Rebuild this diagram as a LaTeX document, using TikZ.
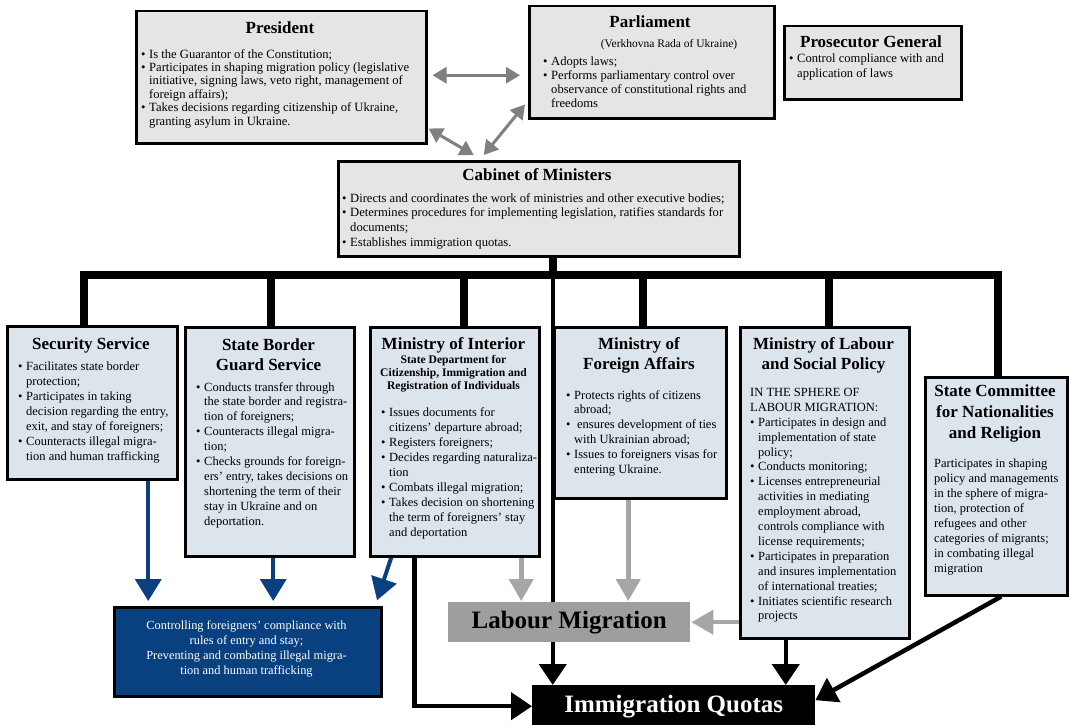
\documentclass[tikz,border=0pt]{standalone}
\usepackage{fontspec}
\setmainfont{Liberation Serif}
\usetikzlibrary{arrows.meta,calc}
\definecolor{topfill}{HTML}{E5E5E5}
\definecolor{lowfill}{HTML}{DCE4EC}
\definecolor{navy}{RGB}{8,64,128}
\definecolor{lgray}{HTML}{A6A6A6}
\definecolor{dgray}{HTML}{808080}
\definecolor{lmfill}{HTML}{9E9E9E}
\newcommand{\bu}{\makebox[8pt][l]{\textbullet}}
\newcommand{\ci}{\hspace*{8pt}}
\pgfdeclarelayer{bg}
\pgfsetlayers{bg,main}
\begin{document}
\begin{tikzpicture}[x=1pt,y=-1pt,
 topbox/.style={draw, line width=2.5pt, fill=topfill, inner sep=0pt, anchor=north west},
 lowbox/.style={draw, line width=2.5pt, fill=lowfill, inner sep=0pt, anchor=north west},
 ttl/.style={font=\fontsize{17}{20}\selectfont\bfseries, align=center, inner sep=0pt},
 tbody/.style={font=\fontsize{12.6}{13.4}\selectfont, align=left, inner sep=0pt, anchor=north west},
 lbody/.style={font=\fontsize{12.5}{14.9}\selectfont, align=left, inner sep=0pt, anchor=north west},
 tree/.style={line width=8pt, line join=miter},
 blk/.style={line width=4.5pt, line join=miter, -{Triangle[length=21pt,width=27pt]}},
 blu/.style={navy, line width=4pt, shorten >=5pt, -{Triangle[length=22pt,width=26pt]}},
 gry/.style={lgray, line width=4.5pt, shorten >=1pt, -{Triangle[length=22pt,width=24pt]}},
 dbl/.style={dgray, line width=3pt, {Triangle[length=14pt,width=16pt]}-{Triangle[length=14pt,width=16pt]}},
]
\useasboundingbox (0,0) rectangle (1071,725);

% ---------- top boxes ----------
\node[topbox, minimum width=290, minimum height=132] (pres) at (135,10) {};
\node[ttl] (presT) at (280,28) {President};
\node[tbody] (presB) at (141,49) {\bu Is the Guarantor of the Constitution;\\ \bu Participates in shaping migration policy (legislative\\ \ci initiative, signing laws, veto right, management of\\ \ci foreign affairs);\\ \bu Takes decisions regarding citizenship of Ukraine,\\ \ci granting asylum in Ukraine.};

\node[topbox, minimum width=245, minimum height=112] (parl) at (528,5) {};
\node[ttl] (parlT) at (650,22) {Parliament};
\node[font=\fontsize{11.5}{13}\selectfont, inner sep=0pt] (parlS) at (669,45) {(Verkhovna Rada of Ukraine)};
\node[tbody, font=\fontsize{12.6}{14}\selectfont] (parlB) at (543,57) {\bu Adopts laws;\\ \bu Performs parliamentary control over\\ \ci observance of constitutional rights and\\ \ci freedoms};

\node[topbox, minimum width=177, minimum height=73] (pros) at (783,25) {};
\node[ttl] (prosT) at (871,42) {Prosecutor General};
\node[tbody, font=\fontsize{12.6}{14.5}\selectfont] (prosB) at (789,54) {\bu Control compliance with and\\ \ci application of laws};

\node[topbox, minimum width=401, minimum height=95] (cab) at (337,160) {};
\node[ttl] (cabT) at (537,175) {Cabinet of Ministers};
\node[tbody, font=\fontsize{12.6}{14.8}\selectfont] (cabB) at (342,193) {\bu Directs and coordinates the work of ministries and other executive bodies;\\ \bu Determines procedures for implementing legislation, ratifies standards for\\ \ci documents;\\ \bu Establishes immigration quotas.};

% ---------- lower boxes ----------
\node[lowbox, minimum width=170, minimum height=153] (sec) at (6,325) {};
\node[ttl] (secT) at (91,345) {Security Service};
\node[lbody, font=\fontsize{12.5}{15}\selectfont] (secB) at (18,362) {\bu Facilitates state border\\ \ci protection;\\ \bu Participates in taking\\ \ci decision regarding the entry,\\ \ci exit, and stay of foreigners;\\ \bu Counteracts illegal migra-\\ \ci tion and human trafficking};

\node[lowbox, minimum width=169, minimum height=229] (bord) at (184,326) {};
\node[ttl] (bordT) at (268.5,355) {State Border\\Guard Service};
\node[lbody] (bordB) at (196,382) {\bu Conducts transfer through\\ \ci the state border and registra-\\ \ci tion of foreigners;\\ \bu Counteracts illegal migra-\\ \ci tion;\\ \bu Checks grounds for foreign-\\ \ci ers’ entry, takes decisions on\\ \ci shortening the term of their\\ \ci stay in Ukraine and on\\ \ci deportation.};

\node[lowbox, minimum width=169, minimum height=229] (int) at (369,326) {};
\node[ttl] (intT) at (453.5,345) {Ministry of Interior};
\node[font=\fontsize{11.6}{13}\selectfont\bfseries, align=center, inner sep=0pt] (intS) at (453.5,374) {State Department for\\Citizenship, Immigration and\\Registration of Individuals};
\node[lbody, font=\fontsize{12.5}{15}\selectfont] (intB) at (381,407) {\bu Issues documents for\\ \ci citizens’ departure abroad;\\ \bu Registers foreigners;\\ \bu Decides regarding naturaliza-\\ \ci tion\\ \bu Combats illegal migration;\\ \bu Takes decision on shortening\\ \ci the term of foreigners’ stay\\ \ci and deportation};

\node[lowbox, minimum width=172, minimum height=171] (for) at (553,326) {};
\node[ttl] (forT) at (639,355) {Ministry of\\Foreign Affairs};
\node[lbody] (forB) at (566,390) {\bu Protects rights of citizens\\ \ci abroad;\\ \bu\hspace{3pt}ensures development of ties\\ \ci with Ukrainian abroad;\\ \bu Issues to foreigners visas for\\ \ci entering Ukraine.};

\node[lowbox, minimum width=169, minimum height=311] (lab) at (739,326) {};
\node[ttl] (labT) at (823.5,355) {Ministry of Labour\\and Social Policy};
\node[lbody] (labB) at (750,388) {IN THE SPHERE OF\\ LABOUR MIGRATION:\\ \bu Participates in design and\\ \ci implementation of state\\ \ci policy;\\ \bu Conducts monitoring;\\ \bu Licenses entrepreneurial\\ \ci activities in mediating\\ \ci employment abroad,\\ \ci controls compliance with\\ \ci license requirements;\\ \bu Participates in preparation\\ \ci and insures implementation\\ \ci of international treaties;\\ \bu Initiates scientific research\\ \ci projects};

\node[lowbox, minimum width=142, minimum height=218] (sc) at (924,376) {};
\node[ttl, font=\fontsize{17}{21}\selectfont\bfseries] (scT) at (995,413) {State Committee\\for Nationalities\\and Religion};
\node[lbody] (scB) at (934,459) {Participates in shaping\\ policy and managements\\ in the sphere of migra-\\ tion, protection of\\ refugees and other\\ categories of migrants;\\ in combating illegal\\ migration};

% ---------- result boxes ----------
\node[draw, line width=2.5pt, fill=navy, minimum width=267, minimum height=89, anchor=north west, inner sep=0pt] (ctl) at (113,606) {};
\node[text=white, font=\fontsize{12.4}{14.8}\selectfont, align=center, inner sep=0pt] (ctlT) at (246.5,649) {Controlling foreigners’ compliance with\\ rules of entry and stay;\\ Preventing and combating illegal migra-\\ tion and human trafficking};
\node[fill=lmfill, minimum width=242, minimum height=40, anchor=north west, inner sep=0pt, font=\fontsize{25}{28}\selectfont\bfseries] (lm) at (448,602) {Labour Migration};
\node[fill=black, text=white, minimum width=283, minimum height=42, anchor=north west, inner sep=0pt, font=\fontsize{25}{28}\selectfont\bfseries] (iq) at (532,685) {Immigration Quotas};

% ---------- connectors ----------
\begin{pgfonlayer}{bg}
\coordinate (cabdrop) at ([xshift=14pt]cab.south);
\coordinate (j) at (cabdrop |- 0,275);
\coordinate (secdrop) at ([xshift=-8pt]sec.north);
\coordinate (borddrop) at ([xshift=1.5pt]bord.north);
\coordinate (intdrop) at ([xshift=9.5pt]int.north);
\coordinate (fordrop) at ([xshift=3pt]for.north);
\coordinate (labdrop) at ([xshift=4.5pt]lab.north);
\coordinate (scdrop) at ([xshift=2pt]sc.north);
\draw[tree] (secdrop) |- (scdrop |- j) -- (scdrop);
\draw[tree] (cabdrop) -- (j);
\draw[tree] (borddrop) -- (borddrop |- j);
\draw[tree] (intdrop) -- (intdrop |- j);
\draw[tree] (fordrop) -- (fordrop |- j);
\draw[tree] (labdrop) -- (labdrop |- j);

\draw[blk] (cabdrop) -- (cabdrop |- iq.north);
\coordinate (intq) at ([xshift=-40.5pt]int.south);
\draw[blk] (intq) |- (iq.west);
\coordinate (labq) at ([xshift=-39pt]lab.south);
\draw[blk] (labq) -- (labq |- iq.north);
\coordinate (scq) at ([xshift=5pt]sc.south);
\coordinate (iqr) at ([yshift=6pt]iq.east);
\draw[blk] (scq) -- (iqr);

\coordinate (secout) at ([xshift=56pt]sec.south);
\draw[blu] (secout) -- (secout |- ctl.north);
\coordinate (bordout) at ([xshift=3.5pt]bord.south);
\draw[blu] (bordout) -- (bordout |- ctl.north);
\coordinate (intc) at ([xshift=-63.5pt]int.south);
\coordinate (ctlr) at ([xshift=-7pt,yshift=1pt]ctl.north east);
\draw[blu] (intc) -- (ctlr);

\coordinate (intout) at ([xshift=66.5pt]int.south);
\draw[gry] (intout) -- (intout |- lm.north);
\coordinate (forout) at ([xshift=-12pt]for.south);
\draw[gry] (forout) -- (forout |- lm.north);
\draw[gry] (lab.west |- lm.east) -- (lm.east);

\coordinate (pe) at ([xshift=5pt,yshift=2pt]pres.east);
\coordinate (pw) at ([xshift=-8pt]parl.west);
\draw[dbl] (pe) -- (pe -| pw);
\coordinate (d1a) at ([xshift=1pt,yshift=16pt]pres.south east);
\coordinate (d1b) at ([xshift=-65pt,yshift=5pt]cab.north);
\draw[dbl] (d1a) -- (d1b);
\coordinate (d2a) at ([xshift=-3pt,yshift=15pt]parl.south west);
\coordinate (d2b) at ([xshift=-55pt,yshift=5pt]cab.north);
\draw[dbl] (d2a) -- (d2b);
\end{pgfonlayer}
\end{tikzpicture}
\end{document}
